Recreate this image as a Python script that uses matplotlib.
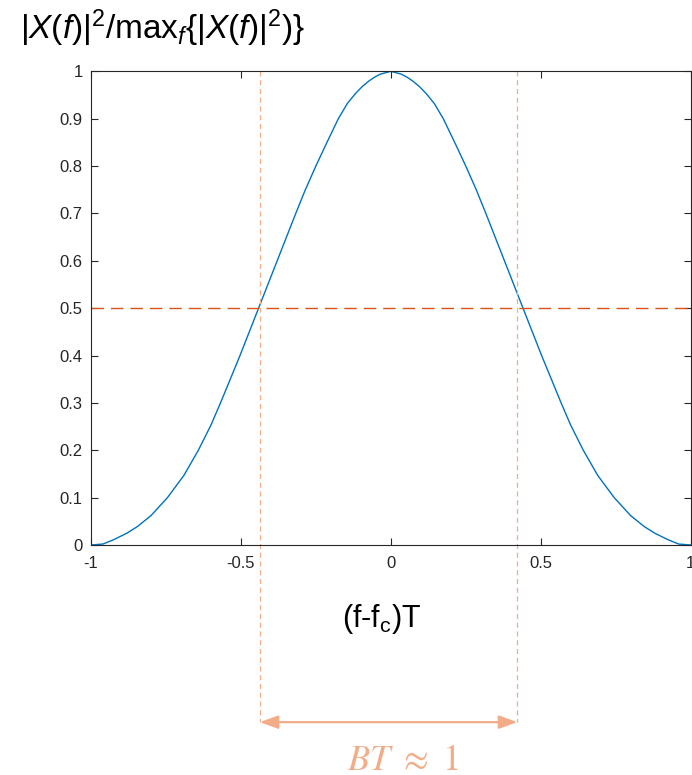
import matplotlib
matplotlib.use("Agg")
import matplotlib.pyplot as plt

plt.rcParams['font.family'] = ['Liberation Sans', 'DejaVu Sans']
plt.rcParams['mathtext.fontset'] = 'custom'
plt.rcParams['mathtext.rm'] = 'Liberation Sans'
plt.rcParams['mathtext.it'] = 'Liberation Sans:italic'
plt.rcParams['mathtext.bf'] = 'Liberation Sans:bold'
plt.rcParams['axes.unicode_minus'] = False

# normalised power spectrum |X(f)|^2 / max, sampled along the curve
freq = [-1.0, -0.96, -0.925, -0.88, -0.845, -0.8, -0.745, -0.69, -0.642,
        -0.6, -0.568, -0.503, -0.441, -0.379, -0.317, -0.285, -0.25, -0.213,
        -0.175, -0.145, -0.118, -0.095, -0.072, -0.053, -0.035, 0.0,
        0.035, 0.053, 0.072, 0.095, 0.118, 0.145, 0.175, 0.213, 0.25,
        0.285, 0.317, 0.379, 0.441, 0.503, 0.568, 0.6, 0.642, 0.69,
        0.745, 0.8, 0.845, 0.88, 0.925, 0.96, 1.0]
power = [0.0, 0.002, 0.011, 0.025, 0.039, 0.062, 0.1, 0.147, 0.2,
         0.253, 0.3, 0.4, 0.5, 0.6, 0.7, 0.75, 0.8, 0.85,
         0.9, 0.932, 0.953, 0.968, 0.98, 0.988, 0.994, 1.0,
         0.994, 0.988, 0.98, 0.968, 0.953, 0.932, 0.9, 0.85, 0.8,
         0.75, 0.7, 0.6, 0.5, 0.4, 0.3, 0.253, 0.2, 0.147,
         0.1, 0.062, 0.039, 0.025, 0.011, 0.002, 0.0]

half_level = 0.5
band_edges = [-0.437, 0.422]
xticks = [-1, -0.5, 0, 0.5, 1]
xtick_labels = ['-1', '-0.5', '0', '0.5', '1']
yticks = [0, 0.1, 0.2, 0.3, 0.4, 0.5, 0.6, 0.7, 0.8, 0.9, 1]
ytick_labels = ['0', '0.1', '0.2', '0.3', '0.4', '0.5', '0.6', '0.7', '0.8', '0.9', '1']

fig = plt.figure(figsize=(6.92, 7.75), dpi=100)
ax = fig.add_axes([0.1315, 0.2968, 0.8665, 0.6112])

ax.plot(freq, power, color='#0072BD', lw=1.0)
ax.axhline(half_level, color='#D95319', lw=1.0, dashes=(9, 5))

# bandwidth markers below the axes
salmon = '#F2AC88'
arrow_y = -0.374
for xe in band_edges:
    ax.plot([xe, xe], [1.0, arrow_y], color=salmon, lw=0.9, dashes=(4, 3),
            clip_on=False)
ax.annotate('', xy=(band_edges[1], arrow_y), xytext=(band_edges[0], arrow_y),
            xycoords='data', annotation_clip=False,
            arrowprops=dict(arrowstyle='<|-|>,head_length=0.55,head_width=0.2',
                            color=salmon, lw=1.6, mutation_scale=20,
                            shrinkA=0, shrinkB=0))
ax.text(0.038, -0.454, r'$BT\ \approx\ 1$', color=salmon, fontsize=26,
        math_fontfamily='stix', ha='center', va='center', clip_on=False)

ax.text(-0.03, -0.156, r'(f-f$_\mathrm{c}$)T', fontsize=22,
        ha='center', va='center', clip_on=False)
fig.text(0.029, 0.964, r'$|X(f)|^2/\mathrm{max}_f\{|X(f)|^2)\}$', fontsize=24,
         ha='left', va='center')

ax.set_xlim(-1, 1)
ax.set_ylim(0, 1)
ax.set_xticks(xticks)
ax.set_xticklabels(xtick_labels)
ax.set_yticks(yticks)
ax.set_yticklabels(ytick_labels)
ax.tick_params(direction='in', length=5, width=0.8, colors='#262626',
               labelsize=12, top=True, right=True)
ax.tick_params(axis='x', pad=8)
ax.tick_params(axis='y', pad=6)
for sp in ax.spines.values():
    sp.set_color('#262626')
    sp.set_linewidth(0.8)

fig.savefig('out.png', dpi=100)
